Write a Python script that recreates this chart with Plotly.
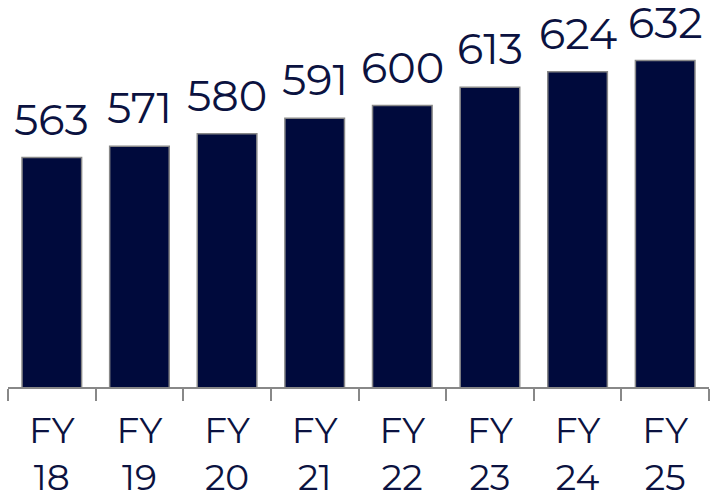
import plotly.graph_objects as go

categories = ["FY<br>18", "FY<br>19", "FY<br>20", "FY<br>21", "FY<br>22", "FY<br>23", "FY<br>24", "FY<br>25"]
values = [563, 571, 580, 591, 600, 613, 624, 632]

navy = "#000A3C"
text_navy = "#0B1240"
grey = "#888888"
font_family = "Montserrat, Lato, 'Open Sans', sans-serif"

fig = go.Figure()
fig.add_trace(go.Bar(
    x=categories, y=values,
    marker=dict(color=navy, line=dict(color=grey, width=1.5)),
    width=0.68,
))

for c, v in zip(categories, values):
    fig.add_annotation(x=c, y=v, text=str(v), showarrow=False,
                       yanchor="bottom", yshift=10,
                       font=dict(family=font_family, size=43, color=text_navy))

fig.update_layout(
    width=710, height=496,
    margin=dict(l=8, r=1, t=0, b=109),
    paper_bgcolor="white", plot_bgcolor="white",
    showlegend=False,
    bargap=0.32,
)
fig.update_xaxes(
    showline=True, linecolor=grey, linewidth=1.5,
    ticks="outside", tickson="boundaries", ticklen=12, tickcolor=grey, tickwidth=1.5,
    tickfont=dict(family=font_family, size=36, color=text_navy),
    ticklabelstandoff=11,
    automargin=False,
    showgrid=False,
)
fig.update_yaxes(range=[400, 675], visible=False, showgrid=False, automargin=False)

fig.write_html("out.html", config={"displayModeBar": False},
               post_script="document.body.style.margin='0';document.body.style.overflow='hidden';")
